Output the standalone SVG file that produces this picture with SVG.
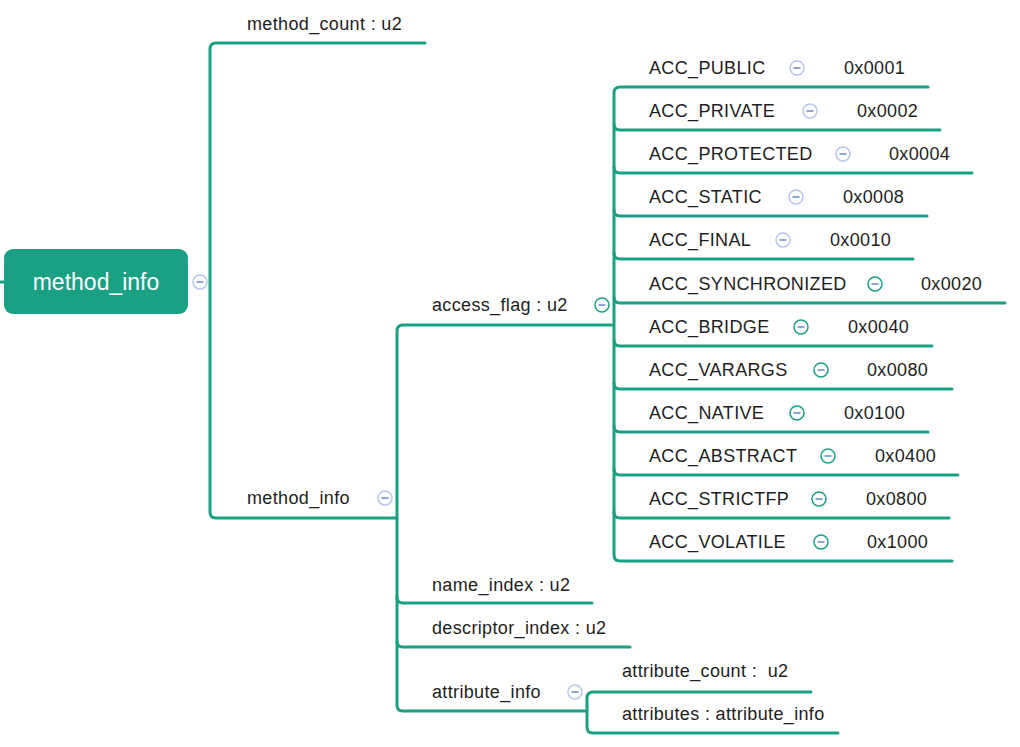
<svg xmlns="http://www.w3.org/2000/svg" width="1020" height="747" viewBox="0 0 1020 747">
<style>
.t{font-family:"Liberation Sans",Arial,sans-serif;font-size:18px;fill:#1e1e1e;letter-spacing:0.35px}
.c path{fill:none;stroke:#1aa083;stroke-width:3;stroke-linecap:round}
.ib circle{fill:#fff;stroke:#b4c6ec;stroke-width:1.5}
.ig circle{fill:#fff;stroke:#1aa083;stroke-width:1.5}
.ib line,.ig line{stroke:#8fa4d8;stroke-width:2}
</style>
<defs>
<g id="mb"><g class="ib"><circle r="7"/><line x1="-3.5" y1="0" x2="3.5" y2="0"/></g></g>
<g id="mg"><g class="ig"><circle r="7"/><line x1="-3.5" y1="0" x2="3.5" y2="0"/></g></g>
</defs>
<rect width="1020" height="747" fill="#fff"/>
<g id="connectors" class="c">
<path d="M0,282 H4"/>
<path d="M425,43 H216 Q210,43 210,49 V512 Q210,518 216,518 H397"/>
<path d="M612,325 H403 Q397,325 397,331 V705 Q397,711 403,711 H587"/>
<path d="M397,597 Q397,603 403,603 H592"/>
<path d="M397,641 Q397,647 403,647 H630"/>
<path d="M928,87 H620 Q614,87 614,93 V555 Q614,561 620,561 H952"/>
<path d="M614,124 Q614,130 620,130 H940"/>
<path d="M614,167 Q614,173 620,173 H972"/>
<path d="M614,210 Q614,216 620,216 H927"/>
<path d="M614,253 Q614,259 620,259 H913"/>
<path d="M614,297 Q614,303 620,303 H1005"/>
<path d="M614,340 Q614,346 620,346 H932"/>
<path d="M614,383 Q614,389 620,389 H952"/>
<path d="M614,426 Q614,432 620,432 H928"/>
<path d="M614,469 Q614,475 620,475 H958"/>
<path d="M614,512 Q614,518 620,518 H949"/>
<path d="M811,692 H593 Q587,692 587,698 V727 Q587,733 593,733 H838"/>
</g>
<g id="root">
<rect x="4" y="249" width="184" height="65" rx="9" fill="#1aa083"/>
<text x="96" y="290" text-anchor="middle" style="font-family:'Liberation Sans',Arial,sans-serif;font-size:23px;fill:#fff">method_info</text>
<use href="#mb" x="200" y="282"/>
</g>
<g id="method_count"><text class="t" x="247" y="30">method_count : u2</text></g>
<g id="method_info_child"><text class="t" x="247" y="504">method_info</text><use href="#mb" x="385" y="498"/></g>
<g id="access_flag"><text class="t" x="432" y="311">access_flag : u2</text><use href="#mg" x="602" y="305"/></g>
<g id="name_index"><text class="t" x="432" y="591">name_index : u2</text></g>
<g id="descriptor_index"><text class="t" x="432" y="634">descriptor_index : u2</text></g>
<g id="attribute_info"><text class="t" x="432" y="698">attribute_info</text><use href="#mb" x="575" y="692"/></g>
<g id="attribute_count"><text class="t" x="622" y="677" xml:space="preserve">attribute_count :  u2</text></g>
<g id="attributes"><text class="t" x="622" y="720">attributes : attribute_info</text></g>
<g id="acc_public"><text class="t" x="649" y="74">ACC_PUBLIC</text><use href="#mb" x="797" y="68"/><text class="t" x="844" y="74">0x0001</text></g>
<g id="acc_private"><text class="t" x="649" y="117">ACC_PRIVATE</text><use href="#mb" x="810" y="111"/><text class="t" x="857" y="117">0x0002</text></g>
<g id="acc_protected"><text class="t" x="649" y="160">ACC_PROTECTED</text><use href="#mb" x="843" y="154"/><text class="t" x="889" y="160">0x0004</text></g>
<g id="acc_static"><text class="t" x="649" y="203">ACC_STATIC</text><use href="#mb" x="796" y="197"/><text class="t" x="843" y="203">0x0008</text></g>
<g id="acc_final"><text class="t" x="649" y="246">ACC_FINAL</text><use href="#mb" x="783" y="240"/><text class="t" x="830" y="246">0x0010</text></g>
<g id="acc_synchronized"><text class="t" x="649" y="290">ACC_SYNCHRONIZED</text><use href="#mg" x="875" y="284"/><text class="t" x="921" y="290">0x0020</text></g>
<g id="acc_bridge"><text class="t" x="649" y="333">ACC_BRIDGE</text><use href="#mg" x="801" y="327"/><text class="t" x="848" y="333">0x0040</text></g>
<g id="acc_varargs"><text class="t" x="649" y="376">ACC_VARARGS</text><use href="#mg" x="821" y="370"/><text class="t" x="867" y="376">0x0080</text></g>
<g id="acc_native"><text class="t" x="649" y="419">ACC_NATIVE</text><use href="#mg" x="797" y="413"/><text class="t" x="844" y="419">0x0100</text></g>
<g id="acc_abstract"><text class="t" x="649" y="462">ACC_ABSTRACT</text><use href="#mg" x="828" y="456"/><text class="t" x="875" y="462">0x0400</text></g>
<g id="acc_strictfp"><text class="t" x="649" y="505">ACC_STRICTFP</text><use href="#mg" x="819" y="499"/><text class="t" x="866" y="505">0x0800</text></g>
<g id="acc_volatile"><text class="t" x="649" y="548">ACC_VOLATILE</text><use href="#mg" x="821" y="542"/><text class="t" x="867" y="548">0x1000</text></g>
</svg>
